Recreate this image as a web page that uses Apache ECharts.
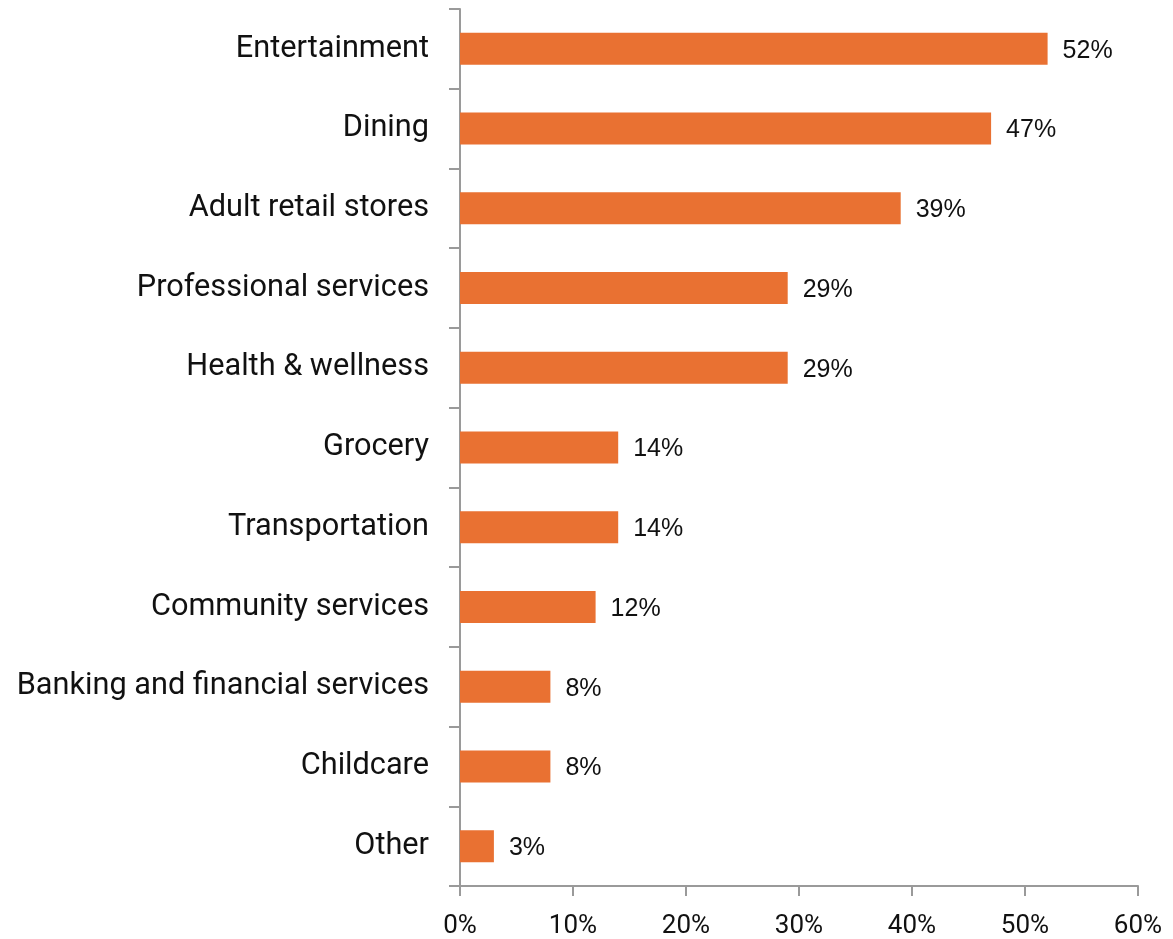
<!DOCTYPE html>
<html><head><meta charset="utf-8">
<script src="https://cdn.jsdelivr.net/npm/echarts@6/dist/echarts.min.js"></script>
<style>html,body{margin:0;padding:0;background:#fff}#c{width:1173px;height:939px}</style>
</head><body><div id="c"></div>
<script>
const categories = ["Entertainment","Dining","Adult retail stores","Professional services","Health & wellness","Grocery","Transportation","Community services","Banking and financial services","Childcare","Other"];
const values = [52,47,39,29,29,14,14,12,8,8,3];
const xTicks = [0,10,20,30,40,50,60];

const chart = echarts.init(document.getElementById('c'), null, {renderer:'canvas'});
const font = 'Roboto';
chart.setOption({
  animation:false,
  grid:{left:460,right:35,top:9,bottom:51,containLabel:false},
  xAxis:{type:'value',min:xTicks[0],max:xTicks[xTicks.length-1],interval:xTicks[1]-xTicks[0],
    axisLine:{show:true,lineStyle:{color:'#9a9a9a',width:2}},
    axisTick:{show:true,length:10,lineStyle:{color:'#9a9a9a',width:2}},
    splitLine:{show:false},
    axisLabel:{formatter:v=>v+'%',fontFamily:font,fontSize:26,color:'#111',margin:27}},
  yAxis:{type:'category',data:categories.slice().reverse(),
    axisLine:{show:true,lineStyle:{color:'#9a9a9a',width:2}},
    axisTick:{show:true,length:11,lineStyle:{color:'#9a9a9a',width:2}},
    axisLabel:{fontFamily:font,fontSize:30.7,color:'#111',margin:31,padding:[4,0,0,0]}},
  series:[{type:'bar',data:values.slice().reverse(),barWidth:32,
    itemStyle:{color:'#E97132'},
    label:{show:true,position:'right',distance:15,offset:[0,2],formatter:p=>p.value+'%',fontFamily:'Liberation Sans',fontSize:25,color:'#111'}}]
});
</script></body></html>
